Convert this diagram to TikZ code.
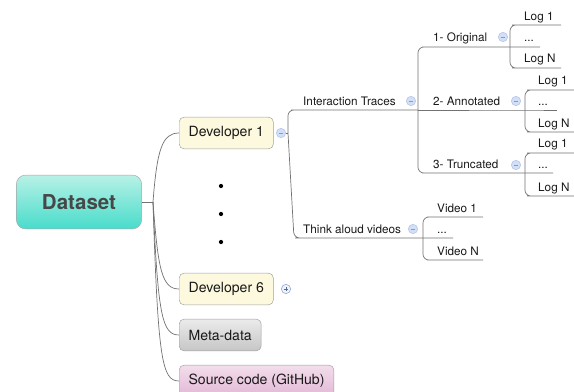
\documentclass[tikz,border=0pt]{standalone}
\usepackage{fontspec}
\setmainfont{TeX Gyre Heros}
\definecolor{rootTop}{HTML}{B8F1E6}
\definecolor{rootBot}{HTML}{48DCCB}
\definecolor{devFill}{HTML}{FDF9DE}
\definecolor{metaTop}{HTML}{EBEBEB}
\definecolor{metaBot}{HTML}{C6C6C6}
\definecolor{srcTop}{HTML}{F3DDEB}
\definecolor{srcBot}{HTML}{E2B8D6}
\definecolor{foldFill}{HTML}{D3DFF6}
\definecolor{foldLine}{HTML}{A9BEEA}
\definecolor{foldSign}{HTML}{7F9BD6}
\definecolor{linkGray}{HTML}{727272}

\begin{document}
\begin{tikzpicture}[x=0.03cm, y=-0.03cm,
  root/.style={draw=gray!70, rounded corners=8pt, top color=rootTop, bottom color=rootBot,
    minimum width=107pt, minimum height=46pt, text=black!72,
    font=\fontsize{17.5}{20}\selectfont\bfseries},
  box/.style={draw=gray!75, rounded corners=4pt, anchor=west, minimum height=27pt,
    inner xsep=8pt, text=black!90, font=\fontsize{12}{14}\selectfont},
  dev/.style={box, fill=devFill},
  meta/.style={box, top color=metaTop, bottom color=metaBot},
  src/.style={box, top color=srcTop, bottom color=srcBot},
  lbl/.style={anchor=base west, inner sep=0pt, text=black!90, font=\fontsize{10}{12}\selectfont},
  fold/.style={circle, draw=foldLine, fill=foldFill, minimum size=8pt, inner sep=0pt,
    path picture={\draw[foldSign, line width=0.7pt]
      ([xshift=-2pt]path picture bounding box.center) -- ([xshift=2pt]path picture bounding box.center);}},
  unfold/.style={circle, draw=foldSign, fill=foldFill!40, minimum size=8pt, inner sep=0pt,
    path picture={\draw[foldSign!70!black, line width=0.7pt]
      ([xshift=-2pt]path picture bounding box.center) -- ([xshift=2pt]path picture bounding box.center)
      ([yshift=-2pt]path picture bounding box.center) -- ([yshift=2pt]path picture bounding box.center);}},
  dot/.style={circle, fill=black, inner sep=0pt, minimum size=3.6pt},
  link/.style={draw=linkGray, line width=0.6pt, rounded corners=5pt}]
\clip (0,0) rectangle (574,392);

\node[root] (ds) at (79,202) {Dataset};
\node[dev] (dev1) at (179,133) {Developer 1};
\node[dev] (dev6) at (179,289) {Developer 6};
\node[meta] (md) at (179,335) {Meta-data};
\node[src] (sc) at (179,381) {Source code (GitHub)};
\foreach \y [count=\i] in {186,214,242}
  \node[dot] (d\i) at (221,\y) {};
\node[fold] (f1) at (281,133) {};
\node[unfold] (f6) at (286,289) {};

\coordinate (hub) at (153,202);
\draw[link] (ds.east) -- (hub);
\draw[link] (hub) .. controls (157,150) and (162,133) .. (dev1.west);
\draw[link] (hub) .. controls (158,270) and (162,289) .. (dev6.west);
\draw[link] (hub) .. controls (158,315) and (162,335) .. (md.west);
\draw[link] (hub) .. controls (158,360) and (162,381) .. (sc.west);

% developer 1
\coordinate (f1b) at (288,133);
\coordinate (it) at (297,110);
\coordinate (itB) at (418,110);
\coordinate (ta) at (301,238);
\coordinate (taB) at (423,238);
\coordinate (taE) at (453,238);
\draw[link] (f1.east) -- (f1b);
\draw[link] (f1b) -- (288,110) -- (it) -- (itB);
\draw[link] (f1b) -- (294,238) -- (ta) -- (taB) -- (taE);
\node[lbl] (itT) at (303,105) {Interaction Traces};
\node[lbl] (taT) at (303,233) {Think aloud videos};
\node[fold] (fIt) at (411,101) {};
\node[fold] (fTa) at (413,229) {};

% interaction traces
\coordinate (or) at (428,47);
\coordinate (orB) at (510,47);
\coordinate (orE) at (540,47);
\coordinate (anB) at (525,110);
\coordinate (anE) at (557,110);
\coordinate (tr) at (428,173);
\coordinate (trB) at (525,173);
\coordinate (trE) at (553,173);
\draw[link] (itB) -- (418,47) -- (or) -- (orB) -- (orE);
\draw[link] (itB) -- (anB) -- (anE);
\draw[link] (itB) -- (418,173) -- (tr) -- (trB) -- (trE);
\node[lbl] (orT) at (433,42) {1- Original};
\node[lbl] (anT) at (433,105) {2- Annotated};
\node[lbl] (trT) at (433,168) {3- Truncated};
\node[fold] (fOr) at (503,37) {};
\node[fold] (fAn) at (516,101) {};
\node[fold] (fTr) at (516,165) {};

% logs
\coordinate (o1) at (518,25);  \coordinate (o1E) at (561,25);
\coordinate (oN) at (518,68);  \coordinate (oNE) at (561,68);
\coordinate (a1) at (533,90);  \coordinate (a1E) at (574,90);
\coordinate (aN) at (533,132); \coordinate (aNE) at (574,132);
\coordinate (t1) at (533,153); \coordinate (t1E) at (574,153);
\coordinate (tN) at (533,196); \coordinate (tNE) at (574,196);
\draw[link] (orB) -- (510,25) -- (o1) -- (o1E);
\draw[link] (orB) -- (510,68) -- (oN) -- (oNE);
\draw[link] (anB) -- (525,90) -- (a1) -- (a1E);
\draw[link] (anB) -- (525,132) -- (aN) -- (aNE);
\draw[link] (trB) -- (525,153) -- (t1) -- (t1E);
\draw[link] (trB) -- (525,196) -- (tN) -- (tNE);
\node[lbl] (o1T) at (524,20.5) {Log 1};
\node[lbl] (oMT) at (524,42) {...};
\node[lbl] (oNT) at (524,63) {Log N};
\node[lbl] (a1T) at (538,85) {Log 1};
\node[lbl] (aMT) at (538,105) {...};
\node[lbl] (aNT) at (538,127) {Log N};
\node[lbl] (t1T) at (538,148) {Log 1};
\node[lbl] (tMT) at (538,168) {...};
\node[lbl] (tNT) at (538,191) {Log N};

% videos
\coordinate (v1) at (433,217); \coordinate (v1E) at (483,217);
\coordinate (vN) at (433,260); \coordinate (vNE) at (483,260);
\draw[link] (taB) -- (423,217) -- (v1) -- (v1E);
\draw[link] (taB) -- (423,260) -- (vN) -- (vNE);
\node[lbl] (v1T) at (437,212) {Video 1};
\node[lbl] (vMT) at (437,233) {...};
\node[lbl] (vNT) at (437,255) {Video N};
\end{tikzpicture}
\end{document}
